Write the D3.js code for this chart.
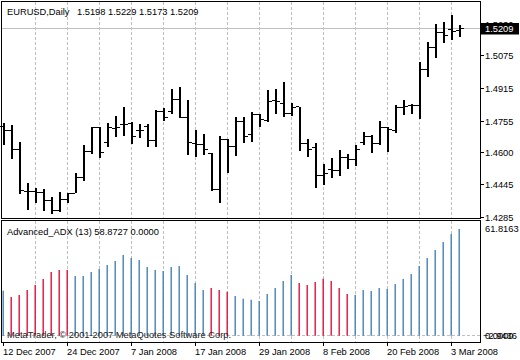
<!DOCTYPE html>
<html><head><meta charset="utf-8">
<script src="https://cdn.jsdelivr.net/npm/d3@7"></script>
<style>
html,body{margin:0;padding:0;background:#fff;}
svg{display:block;font-family:"Liberation Sans",Arial,sans-serif;}
</style></head><body>
<svg id="c" width="520" height="360"></svg>
<script>
const symbolLabel = "EURUSD,Daily";
const dates = ["2007-12-12","2007-12-13","2007-12-14","2007-12-17","2007-12-18","2007-12-19","2007-12-20","2007-12-21","2007-12-24","2007-12-26",
"2007-12-27","2007-12-28","2007-12-31","2008-01-02","2008-01-03","2008-01-04","2008-01-07","2008-01-08","2008-01-09","2008-01-10",
"2008-01-11","2008-01-14","2008-01-15","2008-01-16","2008-01-17","2008-01-18","2008-01-21","2008-01-22","2008-01-23","2008-01-24",
"2008-01-25","2008-01-28","2008-01-29","2008-01-30","2008-01-31","2008-02-01","2008-02-04","2008-02-05","2008-02-06","2008-02-07",
"2008-02-08","2008-02-11","2008-02-12","2008-02-13","2008-02-14","2008-02-15","2008-02-18","2008-02-19","2008-02-20","2008-02-21",
"2008-02-22","2008-02-25","2008-02-26","2008-02-27","2008-02-28","2008-02-29","2008-03-03","2008-03-04"];
const open = [1.4728,1.4711,1.4618,1.4411,1.4410,1.4407,1.4367,1.4316,1.4374,1.4403,
1.4481,1.4606,1.4724,1.4650,1.4721,1.4741,1.4746,1.4708,1.4732,1.4660,
1.4805,1.4802,1.4864,1.4774,1.4647,1.4642,1.4595,1.4422,1.4667,1.4630,
1.4753,1.4692,1.4786,1.4761,1.4859,1.4843,1.4794,1.4826,1.4644,1.4626,
1.4492,1.4520,1.4513,1.4576,1.4570,1.4652,1.4680,1.4644,1.4726,1.4709,
1.4823,1.4833,1.4830,1.5011,1.5118,1.5191,1.5205,1.5198];
const high = [1.4749,1.4737,1.4655,1.4451,1.4430,1.4423,1.4385,1.4407,1.4405,1.4501,
1.4637,1.4726,1.4726,1.4746,1.4779,1.4823,1.4751,1.4742,1.4742,1.4810,
1.4819,1.4912,1.4922,1.4859,1.4713,1.4693,1.4598,1.4683,1.4667,1.4774,
1.4774,1.4799,1.4791,1.4909,1.4912,1.4947,1.4846,1.4826,1.4667,1.4647,
1.4546,1.4573,1.4614,1.4595,1.4639,1.4704,1.4688,1.4757,1.4729,1.4835,
1.4859,1.4840,1.5045,1.5145,1.5231,1.5240,1.5276,1.5229];
const low = [1.4644,1.4573,1.4405,1.4327,1.4362,1.4322,1.4305,1.4315,1.4362,1.4410,
1.4466,1.4600,1.4578,1.4634,1.4685,1.4690,1.4650,1.4677,1.4635,1.4635,
1.4761,1.4794,1.4774,1.4593,1.4586,1.4595,1.4418,1.4362,1.4508,1.4590,
1.4655,1.4660,1.4732,1.4757,1.4797,1.4782,1.4786,1.4614,1.4586,1.4435,
1.4446,1.4484,1.4492,1.4528,1.4541,1.4642,1.4606,1.4644,1.4611,1.4701,
1.4789,1.4794,1.4772,1.4978,1.5072,1.5141,1.5156,1.5173];
const close = [1.4711,1.4618,1.4418,1.4410,1.4407,1.4367,1.4316,1.4374,1.4403,1.4481,
1.4606,1.4724,1.4600,1.4724,1.4724,1.4741,1.4683,1.4708,1.4660,1.4805,
1.4774,1.4864,1.4774,1.4652,1.4642,1.4619,1.4422,1.4667,1.4630,1.4753,
1.4683,1.4789,1.4766,1.4854,1.4851,1.4794,1.4823,1.4647,1.4619,1.4492,
1.4501,1.4513,1.4576,1.4570,1.4619,1.4683,1.4647,1.4726,1.4713,1.4823,
1.4826,1.4830,1.5011,1.5118,1.5191,1.5177,1.5197,1.5209];
const adx = [26.07,22.42,23.58,26.47,29.37,32.85,36.90,38.06,38.10,34.58,
34.60,36.90,38.64,40.96,43.27,46.75,45.01,43.85,39.80,38.06,
37.48,39.80,40.38,35.16,30.53,26.47,27.63,26.47,25.49,23.00,
21.43,20.86,20.10,24.16,27.63,31.69,35.16,30.53,29.37,31.11,
33.02,31.69,27.63,24.16,23.58,26.47,25.90,27.63,27.05,29.95,
32.85,35.74,40.38,45.01,49.65,54.28,58.8727,61.8163];
const adxDown = [0,1,1,1,1,1,1,1,1,0, 0,0,0,0,0,0,0,0,0,0, 0,0,0,0,0,0,1,1,1,0,
0,0,0,0,0,0,0,1,1,1, 1,1,1,1,0,0,0,0,0,0, 0,0,0,0,0,0,0,0];
const priceTicks = [1.4285,1.4445,1.4600,1.4755,1.4915,1.5075,1.5230];
const adxMax = 61.8163, adxMin = -2.9436;
const adxPeriod = 13;
const copyright = "MetaTrader, \u00A9 2001-2007 MetaQuotes Software Corp.";

const svg = d3.select("#c");
const parse = d3.timeParse("%Y-%m-%d");
const fmtDate = d3.timeFormat("%-d %b %Y");
const f4 = d3.format(".4f");
const n = dates.length;
const idx = d3.range(n);

const L = 2, R = 480;
const mainTop = 2, mainBot = 218, subTop = 221, subBot = 342;
const x = d3.scaleLinear().domain([0, n - 1]).range([4, 4 + 8 * (n - 1)]);
const y = d3.scaleLinear().domain([1.4285, 1.5230]).range([217.3, 24.3]);
const ya = d3.scaleLinear().domain([adxMin, adxMax]).range([340.8, 229]);
const crisp = v => Math.round(v - 0.5) + 0.5;
const GRID = "#c0c0c0";
const FS = "9.3px";

// grid - horizontal main
svg.append("g").selectAll("line").data(priceTicks.slice(0, -0).filter(v => v < 1.523 || true)).join("line")
  .attr("x1", L).attr("x2", R).attr("y1", d => crisp(y(d))).attr("y2", d => crisp(y(d)))
  .attr("stroke", GRID).attr("stroke-dasharray", "3,2");
// vertical grid
const vg = idx.filter(i => i > 0 && i % 4 === 0);
svg.append("g").selectAll("line").data(vg).join("line")
  .attr("x1", d => x(d) - 0.5).attr("x2", d => x(d) - 0.5).attr("y1", mainTop).attr("y2", mainBot)
  .attr("stroke", GRID).attr("stroke-dasharray", "3,2");
svg.append("g").selectAll("line").data(vg).join("line")
  .attr("x1", d => x(d) - 0.5).attr("x2", d => x(d) - 0.5).attr("y1", subTop).attr("y2", subBot)
  .attr("stroke", GRID).attr("stroke-dasharray", "3,2");
// adx zero line
svg.append("line").attr("x1", L).attr("x2", R).attr("y1", crisp(ya(0))).attr("y2", crisp(ya(0)))
  .attr("stroke", GRID).attr("stroke-dasharray", "3,2");

// current price line
const last = n - 1;
svg.append("line").attr("x1", L).attr("x2", R).attr("y1", crisp(y(close[last]))).attr("y2", crisp(y(close[last])))
  .attr("stroke", "#c0c0c0");

// OHLC bars
const bars = svg.append("g").attr("shape-rendering", "crispEdges");
bars.selectAll("line.v").data(idx).join("line").attr("class", "v")
  .attr("x1", i => x(i)).attr("x2", i => x(i))
  .attr("y1", i => Math.round(y(high[i]))).attr("y2", i => Math.round(y(low[i])) + 1)
  .attr("stroke", "#000").attr("stroke-width", 2);
bars.selectAll("line.o").data(idx).join("line").attr("class", "o")
  .attr("x1", i => x(i) - 4).attr("x2", i => x(i) - 1)
  .attr("y1", i => crisp(y(open[i]))).attr("y2", i => crisp(y(open[i])))
  .attr("stroke", "#000").attr("stroke-width", 1);
bars.selectAll("line.c").data(idx).join("line").attr("class", "c")
  .attr("x1", i => x(i) + 1).attr("x2", i => x(i) + 4)
  .attr("y1", i => crisp(y(close[i]))).attr("y2", i => crisp(y(close[i])))
  .attr("stroke", "#000").attr("stroke-width", 1);

// ADX histogram
svg.append("g").selectAll("line").data(idx).join("line")
  .attr("x1", i => x(i) - 0.8).attr("x2", i => x(i) - 0.8)
  .attr("y1", ya(0)).attr("y2", i => ya(adx[i]))
  .attr("stroke", i => adxDown[i] ? "#DC143C" : "#4682B4").attr("stroke-width", 1.4);

// frames
const fr = svg.append("g").attr("fill", "none").attr("stroke", "#000").attr("shape-rendering", "crispEdges");
fr.append("rect").attr("x", 1.5).attr("y", 1.5).attr("width", R - 1).attr("height", 217);
fr.append("rect").attr("x", 1.5).attr("y", 220.5).attr("width", R - 1).attr("height", 122);

// right axis ticks + labels (main)
const ax = svg.append("g").attr("font-size", FS).attr("fill", "#000");
ax.selectAll("line").data(priceTicks).join("line")
  .attr("x1", R).attr("x2", R + 4).attr("y1", d => crisp(y(d))).attr("y2", d => crisp(y(d)))
  .attr("stroke", "#000").attr("shape-rendering", "crispEdges");
ax.selectAll("text").data(priceTicks).join("text")
  .attr("x", 485).attr("y", d => y(d) + 3.3).text(d => f4(d));

// current price box
svg.append("rect").attr("x", 481).attr("y", Math.round(y(close[last])) - 6).attr("width", 38).attr("height", 11.5).attr("fill", "#000");
svg.append("text").attr("x", 485).attr("y", y(close[last]) + 3.3).attr("font-size", FS).attr("fill", "#fff").text(f4(close[last]));

// ADX axis labels
const sa = svg.append("g").attr("font-size", FS).attr("fill", "#000");
sa.append("text").attr("x", 485).attr("y", ya(adxMax) + 3.3).text(f4(adxMax));
sa.append("text").attr("x", 485).attr("y", ya(0) + 3.3).text(f4(0));
sa.append("text").attr("x", 483).attr("y", ya(0) + 3.3).text(f4(adxMin));

// date axis
const dTicks = idx.filter(i => i % 8 === 0);
const da = svg.append("g").attr("font-size", FS).attr("fill", "#000");
da.selectAll("line").data(dTicks).join("line")
  .attr("x1", i => x(i) - 0.5).attr("x2", i => x(i) - 0.5).attr("y1", subBot).attr("y2", subBot + 4)
  .attr("stroke", "#000").attr("shape-rendering", "crispEdges");
da.selectAll("text").data(dTicks).join("text")
  .attr("x", i => x(i) - 1).attr("y", 355.3).text(i => fmtDate(parse(dates[i])));

// titles
const t = svg.append("text").attr("y", 15).attr("font-size", FS).attr("fill", "#000");
t.append("tspan").attr("x", 7).text(symbolLabel);
t.append("tspan").attr("x", 77).text([open[last], high[last], low[last], close[last]].map(f4).join(" "));
svg.append("text").attr("x", 7).attr("y", 234.5).attr("font-size", FS).attr("fill", "#000")
  .text(`Advanced_ADX (${adxPeriod}) ${f4(adx[n - 2])} ${f4(0)}`);
svg.append("text").attr("x", 7).attr("y", 338).attr("font-size", FS).attr("fill", "#222").text(copyright);
</script>
</body></html>
